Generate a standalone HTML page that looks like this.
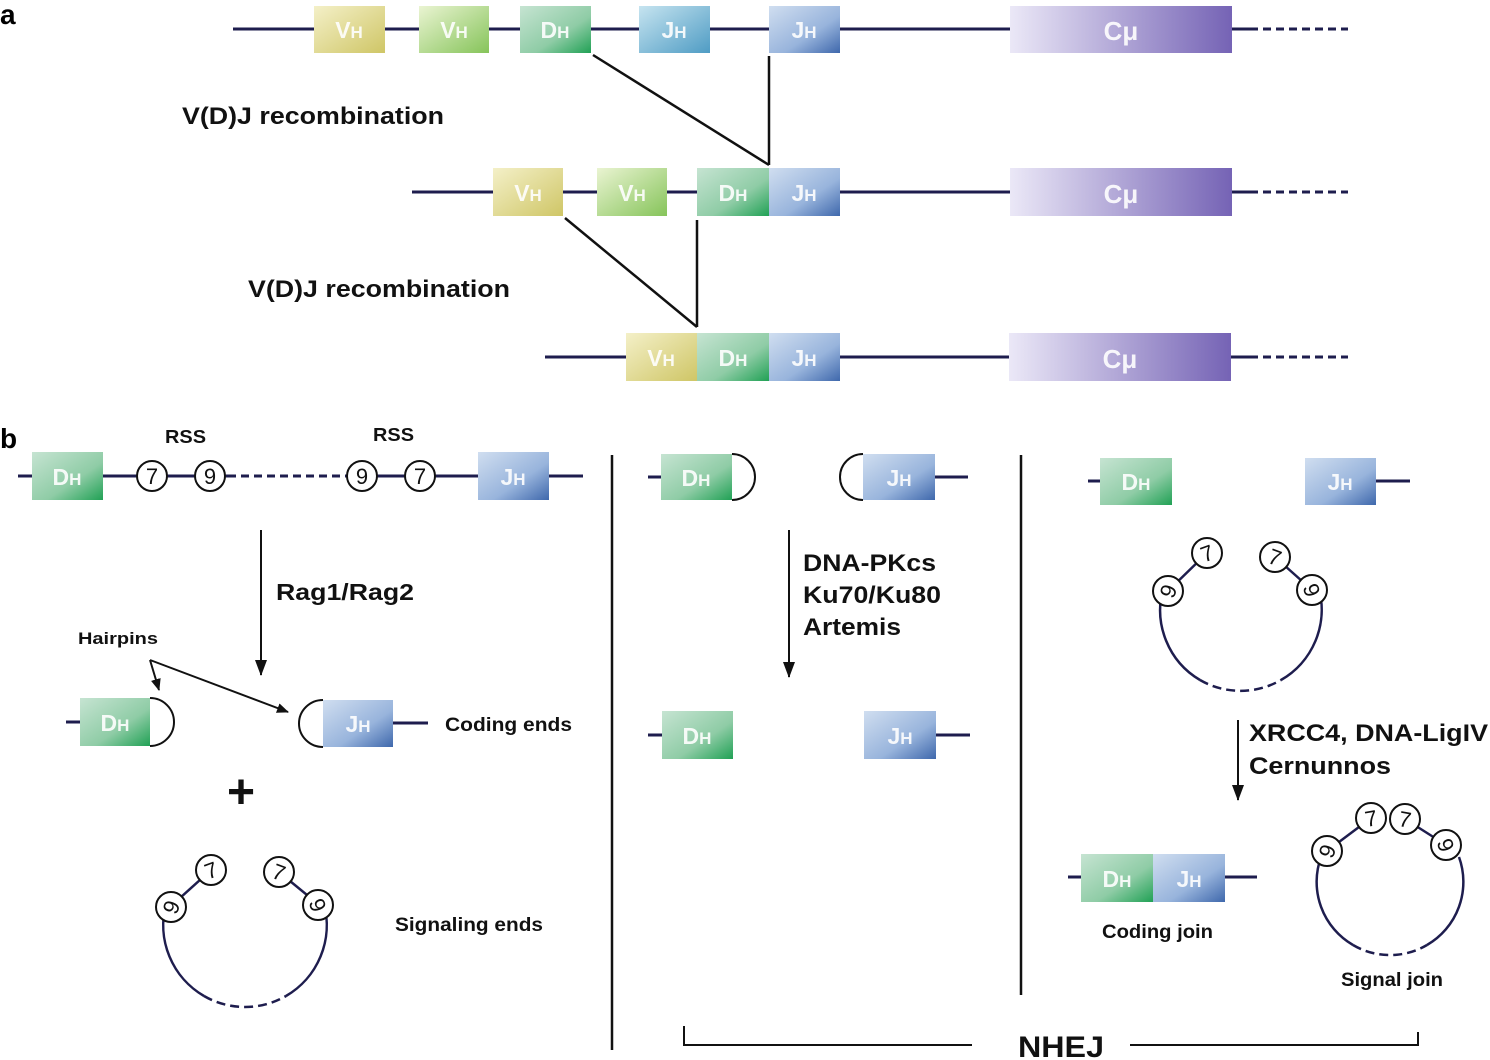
<!DOCTYPE html>
<html><head><meta charset="utf-8"><style>
html,body{margin:0;padding:0;background:#fff;}
svg{display:block;font-family:"Liberation Sans",Arial,sans-serif;}
</style></head><body>
<svg width="1490" height="1060" viewBox="0 0 1490 1060" xmlns="http://www.w3.org/2000/svg">
<defs>
<linearGradient id="gV1" x1="0" y1="0" x2="1" y2="1"><stop offset="0" stop-color="#f4f0c8"/><stop offset="1" stop-color="#cfc666"/></linearGradient>
<linearGradient id="gV2" x1="0" y1="0" x2="1" y2="1"><stop offset="0" stop-color="#eaf4d2"/><stop offset="1" stop-color="#86c45a"/></linearGradient>
<linearGradient id="gD" x1="0" y1="0" x2="1" y2="1"><stop offset="0" stop-color="#c6e4d2"/><stop offset="0.6" stop-color="#8fcca6"/><stop offset="1" stop-color="#21a155"/></linearGradient>
<linearGradient id="gJ1" x1="0" y1="0" x2="1" y2="1"><stop offset="0" stop-color="#c6e4f0"/><stop offset="1" stop-color="#4f9cc4"/></linearGradient>
<linearGradient id="gJ" x1="0" y1="0" x2="1" y2="1"><stop offset="0" stop-color="#d0def0"/><stop offset="0.6" stop-color="#98b4dc"/><stop offset="1" stop-color="#3f68ac"/></linearGradient>
<linearGradient id="gC" x1="0" y1="0" x2="1" y2="0"><stop offset="0" stop-color="#ebe8f7"/><stop offset="1" stop-color="#7563b5"/></linearGradient>
<marker id="ar" markerWidth="16" markerHeight="12" refX="15" refY="6" orient="auto" markerUnits="userSpaceOnUse"><path d="M0,0 L16,6 L0,12 Z" fill="#111"/></marker>
<marker id="ar2" markerWidth="12" markerHeight="10" refX="11" refY="5" orient="auto" markerUnits="userSpaceOnUse"><path d="M0,0 L12,5 L0,10 Z" fill="#111"/></marker>
</defs>

<g fill="#000" font-weight="bold">
<text x="0" y="24" font-size="28">a</text>
<text x="0" y="448" font-size="28">b</text>
</g>

<!-- Row 1 -->
<g stroke="#1e1d4e" stroke-width="3">
<line x1="233" y1="29" x2="1010" y2="29"/><line x1="1232" y1="29" x2="1250" y2="29"/>
<line x1="1250" y1="29" x2="1348" y2="29" stroke-dasharray="8,5"/>
<line x1="412" y1="192" x2="1010" y2="192"/><line x1="1232" y1="192" x2="1250" y2="192"/>
<line x1="1250" y1="192" x2="1348" y2="192" stroke-dasharray="8,5"/>
<line x1="545" y1="357" x2="1009" y2="357"/><line x1="1231" y1="357" x2="1250" y2="357"/>
<line x1="1250" y1="357" x2="1348" y2="357" stroke-dasharray="8,5"/>
</g>
<g>
<rect x="314" y="6" width="71" height="47" fill="url(#gV1)"/>
<rect x="419" y="6" width="70" height="47" fill="url(#gV2)"/>
<rect x="520" y="6" width="71" height="47" fill="url(#gD)"/>
<rect x="639" y="6" width="71" height="47" fill="url(#gJ1)"/>
<rect x="769" y="6" width="71" height="47" fill="url(#gJ)"/>
<rect x="1010" y="6" width="222" height="47" fill="url(#gC)"/>
<rect x="493" y="168" width="70" height="48" fill="url(#gV1)"/>
<rect x="597" y="168" width="70" height="48" fill="url(#gV2)"/>
<rect x="697" y="168" width="72" height="48" fill="url(#gD)"/>
<rect x="769" y="168" width="71" height="48" fill="url(#gJ)"/>
<rect x="1010" y="168" width="222" height="48" fill="url(#gC)"/>
<rect x="626" y="333" width="71" height="48" fill="url(#gV1)"/>
<rect x="697" y="333" width="72" height="48" fill="url(#gD)"/>
<rect x="769" y="333" width="71" height="48" fill="url(#gJ)"/>
<rect x="1009" y="333" width="222" height="48" fill="url(#gC)"/>
</g>
<g fill="#fff" font-weight="bold" font-size="23" text-anchor="middle" opacity="0.9">
<text x="349" y="38">V<tspan font-size="17">H</tspan></text>
<text x="454" y="38">V<tspan font-size="17">H</tspan></text>
<text x="555" y="38">D<tspan font-size="17">H</tspan></text>
<text x="674" y="38">J<tspan font-size="17">H</tspan></text>
<text x="804" y="38">J<tspan font-size="17">H</tspan></text>
<text x="1121" y="40" font-size="26">Cμ</text>
<text x="528" y="201">V<tspan font-size="17">H</tspan></text>
<text x="632" y="201">V<tspan font-size="17">H</tspan></text>
<text x="733" y="201">D<tspan font-size="17">H</tspan></text>
<text x="804" y="201">J<tspan font-size="17">H</tspan></text>
<text x="1121" y="203" font-size="26">Cμ</text>
<text x="661" y="366">V<tspan font-size="17">H</tspan></text>
<text x="733" y="366">D<tspan font-size="17">H</tspan></text>
<text x="804" y="366">J<tspan font-size="17">H</tspan></text>
<text x="1120" y="368" font-size="26">Cμ</text>
</g>
<g stroke="#111" stroke-width="2.5">
<line x1="593" y1="55" x2="769" y2="165"/><line x1="769" y1="56" x2="769" y2="165"/>
<line x1="565" y1="218" x2="697" y2="327"/><line x1="697" y1="220" x2="697" y2="327"/>
</g>
<g font-weight="bold" font-size="24" fill="#111" lengthAdjust="spacingAndGlyphs">
<text x="182" y="124" textLength="262" lengthAdjust="spacingAndGlyphs">V(D)J recombination</text>
<text x="248" y="297" textLength="262" lengthAdjust="spacingAndGlyphs">V(D)J recombination</text>
</g>

<!-- Part b left -->
<g stroke="#1e1d4e" stroke-width="3">
<line x1="18" y1="476" x2="228" y2="476"/>
<line x1="228" y1="476" x2="345" y2="476" stroke-dasharray="8,5"/>
<line x1="345" y1="476" x2="583" y2="476"/>
<line x1="66" y1="722" x2="80" y2="722"/>
<line x1="393" y1="723" x2="428" y2="723"/>
</g>
<rect x="32" y="452" width="71" height="48" fill="url(#gD)"/>
<rect x="478" y="452" width="71" height="48" fill="url(#gJ)"/>
<rect x="80" y="698" width="70" height="48" fill="url(#gD)"/>
<rect x="323" y="700" width="70" height="47" fill="url(#gJ)"/>
<g fill="none" stroke="#111" stroke-width="2">
<path d="M150,698 A24,24 0 0 1 150,746"/>
<path d="M323,700 A24,23.5 0 0 0 323,747"/>
</g>
<g fill="#fff" font-weight="bold" font-size="23" text-anchor="middle" opacity="0.9">
<text x="67" y="485">D<tspan font-size="17">H</tspan></text>
<text x="513" y="485">J<tspan font-size="17">H</tspan></text>
<text x="115" y="731">D<tspan font-size="17">H</tspan></text>
<text x="358" y="732">J<tspan font-size="17">H</tspan></text>
</g>
<g stroke="#111" stroke-width="2" fill="#fff">
<circle cx="152" cy="476" r="15"/><circle cx="210" cy="476" r="15"/>
<circle cx="362" cy="476" r="15"/><circle cx="420" cy="476" r="15"/>
</g>
<g font-size="22" text-anchor="middle" fill="#111">
<text x="152" y="484">7</text><text x="210" y="484">9</text>
<text x="362" y="484">9</text><text x="420" y="484">7</text>
</g>
<g font-weight="bold" fill="#111">
<text x="165" y="443" font-size="18" textLength="41" lengthAdjust="spacingAndGlyphs">RSS</text>
<text x="373" y="441" font-size="18" textLength="41" lengthAdjust="spacingAndGlyphs">RSS</text>
<text x="276" y="600" font-size="23" textLength="138" lengthAdjust="spacingAndGlyphs">Rag1/Rag2</text>
<text x="78" y="644" font-size="17" textLength="80" lengthAdjust="spacingAndGlyphs">Hairpins</text>
<text x="445" y="731" font-size="19" textLength="127" lengthAdjust="spacingAndGlyphs">Coding ends</text>
<text x="395" y="931" font-size="19" textLength="148" lengthAdjust="spacingAndGlyphs">Signaling ends</text>
<text x="241" y="808" font-size="48" text-anchor="middle">+</text>
</g>
<g stroke="#111" stroke-width="2">
<line x1="261" y1="530" x2="261" y2="675" marker-end="url(#ar)"/>
<line x1="150" y1="660" x2="159" y2="690" marker-end="url(#ar2)"/>
<line x1="150" y1="660" x2="288" y2="712" marker-end="url(#ar2)"/>
</g>

<!-- Circle left -->
<g fill="none" stroke="#1e1d4e" stroke-width="2.5">
<path d="M166,904 A82,82 0 0 0 204,996"/>
<path d="M204,996 A82,82 0 0 0 286,996" stroke-dasharray="9,5"/>
<path d="M286,996 A82,82 0 0 0 324,904"/>
<line x1="170" y1="907" x2="211" y2="870"/><line x1="279" y1="872" x2="318" y2="904"/>
</g>
<!-- Circle top right -->
<g fill="none" stroke="#1e1d4e" stroke-width="2.5">
<path d="M1163,589 A81,81 0 0 0 1200,680"/>
<path d="M1200,680 A81,81 0 0 0 1281,680" stroke-dasharray="9,5"/>
<path d="M1281,680 A81,81 0 0 0 1319,589"/>
<line x1="1168" y1="591" x2="1207" y2="553"/><line x1="1275" y1="557" x2="1312" y2="590"/>
</g>
<!-- Signal join -->
<g fill="none" stroke="#1e1d4e" stroke-width="2.5">
<path d="M1321,857 A73,73 0 0 0 1353,945"/>
<path d="M1353,945 A73,73 0 0 0 1427,945" stroke-dasharray="9,5"/>
<path d="M1427,945 A73,73 0 0 0 1459,857"/>
<line x1="1327" y1="851" x2="1371" y2="818"/><line x1="1405" y1="819" x2="1446" y2="845"/>
</g>
<g stroke="#111" stroke-width="2" fill="#fff">
<circle cx="171" cy="907" r="15"/><circle cx="211" cy="870" r="15"/><circle cx="279" cy="872" r="15"/><circle cx="318" cy="905" r="15"/>
<circle cx="1168" cy="591" r="15"/><circle cx="1207" cy="553" r="15"/><circle cx="1275" cy="557" r="15"/><circle cx="1312" cy="590" r="15"/>
<circle cx="1327" cy="851" r="15"/><circle cx="1371" cy="818" r="15"/><circle cx="1405" cy="819" r="15"/><circle cx="1446" cy="845" r="15"/>
</g>
<g font-size="22" text-anchor="middle" fill="#111">
<text transform="translate(171,907) rotate(-70)" y="8">9</text>
<text transform="translate(211,870) rotate(-20)" y="8">7</text>
<text transform="translate(279,872) rotate(20)" y="8">7</text>
<text transform="translate(318,905) rotate(70)" y="8">9</text>
<text transform="translate(1168,591) rotate(-70)" y="8">9</text>
<text transform="translate(1207,553) rotate(-20)" y="8">7</text>
<text transform="translate(1275,557) rotate(20)" y="8">7</text>
<text transform="translate(1312,590) rotate(70)" y="8">9</text>
<text transform="translate(1327,851) rotate(-70)" y="8">9</text>
<text transform="translate(1371,818) rotate(-10)" y="8">7</text>
<text transform="translate(1405,819) rotate(10)" y="8">7</text>
<text transform="translate(1446,845) rotate(70)" y="8">9</text>
</g>

<!-- Dividers -->
<g stroke="#111" stroke-width="2.5">
<line x1="612" y1="455" x2="612" y2="1050"/>
<line x1="1021" y1="455" x2="1021" y2="995"/>
</g>

<!-- Middle -->
<g stroke="#1e1d4e" stroke-width="3">
<line x1="648" y1="477" x2="661" y2="477"/><line x1="935" y1="477" x2="968" y2="477"/>
<line x1="648" y1="735" x2="662" y2="735"/><line x1="936" y1="735" x2="970" y2="735"/>
</g>
<rect x="661" y="454" width="71" height="46" fill="url(#gD)"/>
<rect x="863" y="454" width="72" height="46" fill="url(#gJ)"/>
<rect x="662" y="711" width="71" height="48" fill="url(#gD)"/>
<rect x="864" y="711" width="72" height="48" fill="url(#gJ)"/>
<g fill="none" stroke="#111" stroke-width="2">
<path d="M732,454 A23,23 0 0 1 732,500"/>
<path d="M863,454 A23,23 0 0 0 863,500"/>
</g>
<g fill="#fff" font-weight="bold" font-size="23" text-anchor="middle" opacity="0.9">
<text x="696" y="486">D<tspan font-size="17">H</tspan></text>
<text x="899" y="486">J<tspan font-size="17">H</tspan></text>
<text x="697" y="744">D<tspan font-size="17">H</tspan></text>
<text x="900" y="744">J<tspan font-size="17">H</tspan></text>
</g>
<line x1="789" y1="530" x2="789" y2="677" stroke="#111" stroke-width="2" marker-end="url(#ar)"/>
<g font-weight="bold" font-size="24" fill="#111">
<text x="803" y="571" textLength="133" lengthAdjust="spacingAndGlyphs">DNA-PKcs</text>
<text x="803" y="603" textLength="138" lengthAdjust="spacingAndGlyphs">Ku70/Ku80</text>
<text x="803" y="635" textLength="98" lengthAdjust="spacingAndGlyphs">Artemis</text>
</g>

<!-- Right -->
<g stroke="#1e1d4e" stroke-width="3">
<line x1="1088" y1="481" x2="1100" y2="481"/><line x1="1376" y1="481" x2="1410" y2="481"/>
<line x1="1068" y1="877" x2="1257" y2="877"/>
</g>
<rect x="1100" y="458" width="72" height="47" fill="url(#gD)"/>
<rect x="1305" y="458" width="71" height="47" fill="url(#gJ)"/>
<rect x="1081" y="854" width="72" height="48" fill="url(#gD)"/>
<rect x="1153" y="854" width="72" height="48" fill="url(#gJ)"/>
<g fill="#fff" font-weight="bold" font-size="23" text-anchor="middle" opacity="0.9">
<text x="1136" y="490">D<tspan font-size="17">H</tspan></text>
<text x="1340" y="490">J<tspan font-size="17">H</tspan></text>
<text x="1117" y="887">D<tspan font-size="17">H</tspan></text>
<text x="1189" y="887">J<tspan font-size="17">H</tspan></text>
</g>
<line x1="1238" y1="720" x2="1238" y2="800" stroke="#111" stroke-width="2" marker-end="url(#ar)"/>
<g font-weight="bold" fill="#111">
<text x="1249" y="741" font-size="24" textLength="239" lengthAdjust="spacingAndGlyphs">XRCC4, DNA-LigIV</text>
<text x="1249" y="774" font-size="24" textLength="142" lengthAdjust="spacingAndGlyphs">Cernunnos</text>
<text x="1102" y="938" font-size="19" textLength="111" lengthAdjust="spacingAndGlyphs">Coding join</text>
<text x="1341" y="986" font-size="19" textLength="102" lengthAdjust="spacingAndGlyphs">Signal join</text>
<text x="1018" y="1057" font-size="30" textLength="86" lengthAdjust="spacingAndGlyphs">NHEJ</text>
</g>
<g stroke="#111" stroke-width="2" fill="none">
<path d="M684,1026 L684,1045 L972,1045"/>
<path d="M1130,1045 L1418,1045 L1418,1032"/>
</g>
</svg>
</body></html>
